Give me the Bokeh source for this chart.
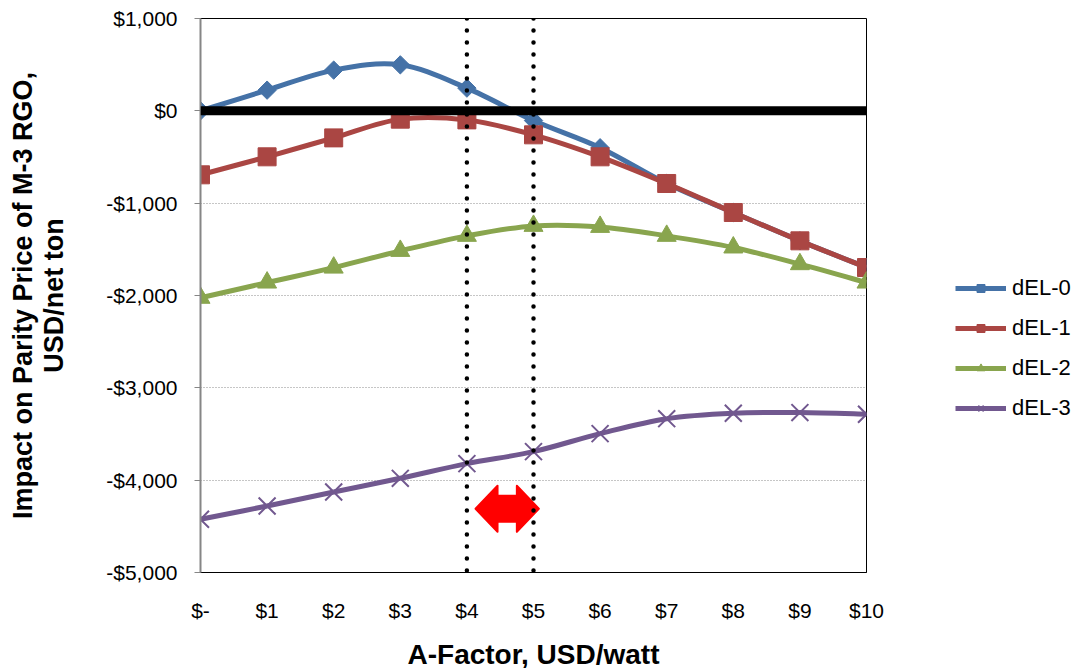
import math
from bokeh.plotting import figure
from bokeh.models import (Range1d, FixedTicker, Span, Legend, LegendItem)
from bokeh.embed import file_html
from bokeh.resources import INLINE

# ---------------- data ----------------
A_FACTOR = [0, 1, 2, 3, 4, 5, 6, 7, 8, 9, 10]
X_LABELS = ["$-", "$1", "$2", "$3", "$4", "$5", "$6", "$7", "$8", "$9", "$10"]
Y_TICKS = [-5000, -4000, -3000, -2000, -1000, 0, 1000]
Y_LABELS = ["-$5,000", "-$4,000", "-$3,000", "-$2,000", "-$1,000", "$0", "$1,000"]

SERIES_NAMES = ["dEL-0", "dEL-1", "dEL-2", "dEL-3"]
DEL_0 = [0, 224, 441, 498, 246, -105, -400, -787, -1101, -1408, -1697]
DEL_1 = [-693, -498, -293, -90, -98, -260, -498, -787, -1101, -1408, -1697]
DEL_2 = [-2025, -1860, -1698, -1517, -1354, -1246, -1257, -1354, -1480, -1661, -1860]
DEL_3 = [-4424, -4280, -4128, -3980, -3821, -3691, -3496, -3334, -3275, -3268, -3286]

MARKED_RANGE = [4, 5]          # vertical dotted lines
ARROW_SPAN = [4.13, 5.08]      # red double arrow extent (x)
ARROW_LEVEL = -4310            # red double arrow level (y)

COLORS = ["#4572A7", "#AA4643", "#89A54E", "#71588F"]
FONT = "Liberation Sans"

# ---------------- figure ----------------
p = figure(frame_width=666, frame_height=554,
           min_border_left=200, min_border_right=210,
           min_border_top=18, min_border_bottom=90,
           x_range=Range1d(0, 10), y_range=Range1d(-5000, 1000),
           output_backend="svg", toolbar_location=None)
p.background_fill_color = "white"
p.border_fill_color = "white"
p.outline_line_color = "black"
p.outline_line_width = 1

# axes
p.xaxis.ticker = FixedTicker(ticks=A_FACTOR)
p.xaxis.major_label_overrides = {t: l for t, l in zip(A_FACTOR, X_LABELS)}
p.yaxis.ticker = FixedTicker(ticks=Y_TICKS)
p.yaxis.major_label_overrides = {t: l for t, l in zip(Y_TICKS, Y_LABELS)}

for ax in (p.xaxis[0], p.yaxis[0]):
    ax.major_label_text_font = FONT
    ax.major_label_text_font_size = "21px"
    ax.major_label_text_color = "black"
    ax.axis_label_text_font = FONT
    ax.axis_label_text_font_style = "bold"
    ax.axis_label_text_color = "black"
    ax.minor_tick_line_color = None

p.xaxis.axis_label = "A-Factor, USD/watt"
p.xaxis.axis_label_text_font_size = "28px"
p.xaxis.axis_line_color = "black"
p.xaxis.major_tick_out = 0
p.xaxis.major_tick_in = 0
p.xaxis.major_label_standoff = 26
p.xaxis.axis_label_standoff = 14

p.yaxis.axis_label = "Impact on Parity Price of M-3 RGO,\nUSD/net ton"
p.yaxis.axis_label_text_font_size = "27px"
p.yaxis.axis_label_text_line_height = 1.05
p.yaxis.axis_line_color = "#868686"
p.yaxis.axis_line_width = 2
p.yaxis.major_tick_line_color = "#868686"
p.yaxis.major_tick_out = 6
p.yaxis.major_tick_in = 0
p.yaxis.major_label_standoff = 17
p.yaxis.axis_label_standoff = 34

p.xgrid.grid_line_color = None
p.ygrid.grid_line_color = "#8c8c8c"
p.ygrid.grid_line_dash = "1 2"
p.ygrid.grid_line_width = 1

# zero line
p.add_layout(Span(location=0, dimension="width", line_color="black", line_width=9))

# vertical dotted markers
for xv in MARKED_RANGE:
    p.add_layout(Span(location=xv, dimension="height", line_color="black",
                      line_width=4.5, line_dash="0 12", line_cap="round"))


# smooth curve (Catmull-Rom -> cubic Bezier segments) through the data
def bezier_segments(xs, ys):
    n = len(xs)
    seg = dict(x0=[], y0=[], x1=[], y1=[], cx0=[], cy0=[], cx1=[], cy1=[])
    for i in range(n - 1):
        xa, ya = xs[max(i - 1, 0)], ys[max(i - 1, 0)]
        xb, yb = xs[i], ys[i]
        xc, yc = xs[i + 1], ys[i + 1]
        xd, yd = xs[min(i + 2, n - 1)], ys[min(i + 2, n - 1)]
        seg["x0"].append(xb); seg["y0"].append(yb)
        seg["x1"].append(xc); seg["y1"].append(yc)
        seg["cx0"].append(xb + (xc - xa) / 6); seg["cy0"].append(yb + (yc - ya) / 6)
        seg["cx1"].append(xc - (xd - xb) / 6); seg["cy1"].append(yc - (yd - yb) / 6)
    return seg


series = [DEL_0, DEL_1, DEL_2, DEL_3]
items = []
for name, ys, color, k in zip(SERIES_NAMES, series, COLORS, range(4)):
    seg = bezier_segments(A_FACTOR, ys)
    lr = p.bezier(line_color=color, line_width=5, **seg)
    if k == 0:
        mr = p.scatter(A_FACTOR, ys, marker="square", angle=math.pi / 4, size=13,
                       fill_color=color, line_color=color)
    elif k == 1:
        mr = p.scatter(A_FACTOR, ys, marker="square", size=18,
                       fill_color=color, line_color=color)
    elif k == 2:
        mr = p.scatter(A_FACTOR, ys, marker="triangle", size=19,
                       fill_color=color, line_color=color)
    else:
        mr = p.scatter(A_FACTOR, ys, marker="x", size=24,
                       line_color=color, line_width=2)
    items.append(LegendItem(label=name, renderers=[lr, mr]))

# red double arrow
hl = 0.33      # head length (x units)
hh = 250       # head half height (y units)
sh = 140       # shaft half height (y units)
xa0, xa1 = ARROW_SPAN
yc = ARROW_LEVEL
p.patch([xa0, xa0 + hl, xa0 + hl, xa1 - hl, xa1 - hl, xa1,
         xa1 - hl, xa1 - hl, xa0 + hl, xa0 + hl],
        [yc, yc + hh, yc + sh, yc + sh, yc + hh, yc,
         yc - hh, yc - sh, yc - sh, yc - hh],
        fill_color="#FF0000", line_color="#FF0000", line_width=2, line_join="round")

legend = Legend(items=items, location=(89, 151))
legend.label_text_font = FONT
legend.label_text_font_size = "22px"
legend.label_text_color = "black"
legend.glyph_width = 51
legend.glyph_height = 20
legend.label_height = 20
legend.label_standoff = 6
legend.spacing = 14
legend.padding = 0
legend.margin = 0
legend.border_line_color = None
legend.background_fill_alpha = 0
p.add_layout(legend, "right")

open("out.html", "w").write(file_html(p, INLINE))
